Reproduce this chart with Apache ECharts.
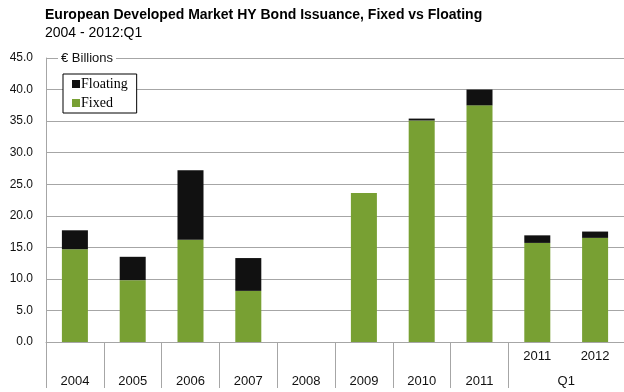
<!DOCTYPE html>
<html>
<head>
<meta charset="utf-8">
<script src="https://cdn.jsdelivr.net/npm/echarts@6/dist/echarts.min.js"></script>
<style>
  html, body { margin: 0; padding: 0; background: #fff; }
  #chart { width: 624px; height: 392px; }
</style>
</head>
<body>
<div id="chart"></div>
<script>
// Issuance periods: full years, then the first quarters of 2011 and 2012
const categories = ['2004', '2005', '2006', '2007', '2008', '2009', '2010', '2011', 'Q1 2011', 'Q1 2012'];
const tickLabels = ['2004', '2005', '2006', '2007', '2008', '2009', '2010', '2011', '2011', '2012'];
const quarterFlags = [false, false, false, false, false, false, false, false, true, true];
const groupLabels = ['', '', '', '', 'Q1'];

// € billions
const fixedValues = [14.7, 9.8, 16.2, 8.1, 0, 23.6, 35.1, 37.5, 15.7, 16.5];
const floatingValues = [3.0, 3.7, 11.0, 5.2, 0, 0, 0.3, 2.5, 1.2, 1.0];

const yTicks = { min: 0, max: 45, step: 5 };

const GREEN = '#78a033';
const BLACK = '#111111';
const GRID_GRAY = '#a6a6a6';
const SANS = '"Liberation Sans", Arial, sans-serif';

const chart = echarts.init(document.getElementById('chart'), null, { renderer: 'canvas' });

chart.setOption({
  animation: false,
  backgroundColor: '#ffffff',
  title: {
    text: 'European Developed Market HY Bond Issuance, Fixed vs Floating',
    subtext: '2004 - 2012:Q1',
    left: 40,
    top: 3,
    itemGap: 4,
    textStyle: { fontFamily: SANS, fontSize: 14, fontWeight: 'bold', color: '#000' },
    subtextStyle: { fontFamily: SANS, fontSize: 14, color: '#000' }
  },
  legend: {
    data: ['Floating', 'Fixed'],
    orient: 'vertical',
    left: 63,
    top: 74,
    padding: [3, 9, 3, 9],
    itemGap: 5,
    itemWidth: 8,
    itemHeight: 8,
    borderColor: '#000',
    borderWidth: 1,
    backgroundColor: '#fff',
    icon: 'rect',
    textStyle: { fontFamily: '"Liberation Serif", "Times New Roman", serif', fontSize: 14, color: '#000', padding: [0, 0, 0, -4] }
  },
  grid: { left: 46, right: 0, top: 58, bottom: 50, containLabel: false },
  xAxis: [
    {
      type: 'category',
      data: categories,
      axisLine: { lineStyle: { color: GRID_GRAY, width: 1 } },
      axisTick: {
        show: true,
        length: 46,
        lineStyle: { color: GRID_GRAY },
        // no divider between the two first-quarter bars
        interval: function (index) { return index !== 9; }
      },
      axisLabel: {
        interval: 0,
        margin: 8,
        fontFamily: SANS,
        fontSize: 13,
        lineHeight: 12.5,
        color: '#111',
        formatter: function (value, index) {
          return quarterFlags[index] ? tickLabels[index] : '\n\n' + tickLabels[index];
        }
      },
      splitLine: { show: false }
    },
    {
      type: 'category',
      position: 'bottom',
      data: groupLabels,
      axisLine: { show: false },
      axisTick: { show: false },
      axisLabel: {
        interval: 0,
        margin: 33,
        fontFamily: SANS,
        fontSize: 13,
        lineHeight: 12.5,
        color: '#111'
      },
      splitLine: { show: false }
    }
  ],
  yAxis: {
    type: 'value',
    min: yTicks.min,
    max: yTicks.max,
    interval: yTicks.step,
    name: '{s|}{b|€ Billions}',
    nameLocation: 'end',
    nameGap: 0,
    nameTextStyle: {
      align: 'left',
      verticalAlign: 'middle',
      rich: {
        s: { width: 12 },
        b: { fontFamily: SANS, fontSize: 13, color: '#111', backgroundColor: '#fff', padding: [1, 3, 1, 3] }
      }
    },
    axisLine: { show: true, lineStyle: { color: GRID_GRAY, width: 1 } },
    axisTick: { show: false },
    axisLabel: {
      margin: 13,
      fontFamily: SANS,
      fontSize: 12,
      color: '#111',
      formatter: function (v) { return v.toFixed(1); }
    },
    splitLine: { show: true, lineStyle: { color: GRID_GRAY, width: 1 } }
  },
  series: [
    {
      name: 'Fixed',
      type: 'bar',
      stack: 'issuance',
      barWidth: '45%',
      data: fixedValues,
      itemStyle: { color: GREEN }
    },
    {
      name: 'Floating',
      type: 'bar',
      stack: 'issuance',
      barWidth: '45%',
      data: floatingValues,
      itemStyle: { color: BLACK }
    }
  ]
});
</script>
</body>
</html>
